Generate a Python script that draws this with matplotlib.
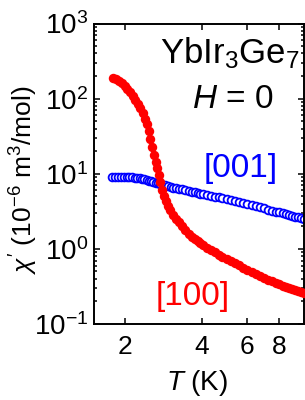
import numpy as np
import matplotlib
matplotlib.use("Agg")
import matplotlib.pyplot as plt
from matplotlib.ticker import FixedLocator, NullFormatter, FixedFormatter, LogLocator

plt.rcParams['font.family'] = 'Liberation Sans'
plt.rcParams['mathtext.fontset'] = 'custom'
plt.rcParams['mathtext.rm'] = 'Liberation Sans'
plt.rcParams['mathtext.it'] = 'Liberation Sans:italic'

# chi' along [100] (red, filled)
T_100 = [1.80, 1.85, 1.90, 1.95, 2.00, 2.05, 2.10, 2.15, 2.20, 2.25, 2.30, 2.35,
         2.40, 2.44, 2.48, 2.52, 2.56, 2.60, 2.64, 2.68, 2.72, 2.76, 2.80, 2.85,
         2.90, 2.95, 3.00, 3.08, 3.16, 3.25, 3.35, 3.45, 3.55, 3.65, 3.75, 3.85,
         3.95, 4.05, 4.20, 4.35, 4.50, 4.65, 4.80, 5.00, 5.20, 5.40, 5.60, 5.80,
         6.00, 6.25, 6.50, 6.75, 7.00, 7.25, 7.50, 7.75, 8.00, 8.25, 8.50, 8.75,
         9.00, 9.25, 9.50, 9.75, 10.0]
chi_100 = [188, 183, 174, 162, 148, 134, 121, 108, 96, 86, 76, 65,
           54, 46, 37, 29, 23, 18, 14.5, 11.8, 9.6, 7.8, 6.0, 5.0,
           4.3, 3.75, 3.3, 2.85, 2.5, 2.25, 2.0, 1.78, 1.59, 1.45, 1.35, 1.26,
           1.18, 1.12, 1.04, 0.97, 0.90, 0.84, 0.79, 0.74, 0.69, 0.645, 0.605, 0.565,
           0.53, 0.495, 0.46, 0.435, 0.41, 0.39, 0.37, 0.355, 0.34, 0.325, 0.315, 0.305,
           0.295, 0.285, 0.278, 0.27, 0.262]

# chi' along [001] (blue, open)
T_001 = [1.79, 1.84, 1.89, 1.94, 1.99, 2.04, 2.09, 2.14, 2.19, 2.24, 2.29, 2.34,
         2.39, 2.44, 2.49, 2.54, 2.59, 2.64, 2.70, 2.76, 2.82, 2.88, 2.95, 3.02,
         3.10, 3.18, 3.26, 3.35, 3.45, 3.55, 3.65, 3.75, 3.85, 3.95, 4.05, 4.20,
         4.35, 4.50, 4.65, 4.80, 5.00, 5.20, 5.40, 5.60, 5.80, 6.00, 6.25, 6.50,
         6.75, 7.00, 7.25, 7.50, 7.75, 8.00, 8.25, 8.50, 8.75, 9.00, 9.25, 9.50,
         9.75, 10.0]
chi_001 = [9.05, 9.05, 9.05, 9.05, 9.0, 9.0, 8.95, 8.95, 8.9, 8.85, 8.75, 8.6,
           8.45, 8.25, 8.05, 7.9, 7.75, 7.6, 7.45, 7.3, 7.15, 7.0, 6.85, 6.7,
           6.55, 6.45, 6.35, 6.22, 6.1, 5.95, 5.8, 5.68, 5.56, 5.45, 5.35, 5.2,
           5.07, 4.95, 4.85, 4.75, 4.62, 4.48, 4.35, 4.22, 4.1, 3.98, 3.84, 3.7,
           3.57, 3.45, 3.34, 3.24, 3.14, 3.05, 2.97, 2.9, 2.83, 2.76, 2.69, 2.63,
           2.56, 2.5]

xticks = [2, 4, 6, 8]
xtick_labels = ['2', '4', '6', '8']

fig = plt.figure(figsize=(3.05, 4.0), dpi=100)
ax = fig.add_axes([94/305, 76/400, 210/305, 300.5/400])

ax.plot(T_001, chi_001, 'o', mfc='white', mec='#0000ff', mew=1.3, ms=5.6, zorder=2)
ax.plot(T_100, chi_100, 'o', color='#ff0000', ms=6.8, mew=0, zorder=3)

ax.set_xscale('log')
ax.set_yscale('log')
ax.set_xlim(1.52, 10)
ax.set_ylim(0.1, 1000)

ax.xaxis.set_major_locator(FixedLocator(xticks))
ax.xaxis.set_major_formatter(FixedFormatter(xtick_labels))
ax.xaxis.set_minor_locator(FixedLocator([]))
ax.xaxis.set_minor_formatter(NullFormatter())
ax.yaxis.set_major_locator(LogLocator(base=10, numticks=10))
ax.yaxis.set_minor_locator(LogLocator(base=10, subs=np.arange(2, 10), numticks=10))

for s in ax.spines.values():
    s.set_linewidth(1.4)
ax.tick_params(which='both', direction='in', top=True, right=True, width=1.1)
ax.tick_params(which='major', length=4.5)
ax.tick_params(which='minor', length=2.3)
ax.tick_params(axis='x', labelsize=19, pad=8)
ax.tick_params(axis='y', labelsize=20, pad=4)

ax.set_xlabel(r'$T$ (K)', fontsize=20)
ax.xaxis.set_label_coords(0.49, -0.145)
ax.set_ylabel(r"$\chi'$ (10$^{-6}$ m$^3$/mol)", fontsize=19)
ax.yaxis.set_label_coords(-0.335, 0.48)
ax.yaxis.label.set_va('center')

ax.text(0.648, 0.868, r'YbIr$_3$Ge$_7$', transform=ax.transAxes,
        ha='center', va='baseline', fontsize=25)
ax.text(0.66, 0.719, r'$H$ = 0', transform=ax.transAxes,
        ha='center', va='baseline', fontsize=24)
ax.text(0.70, 0.488, '[001]', transform=ax.transAxes, color='#0000ff',
        ha='center', va='baseline', fontsize=24)
ax.text(0.472, 0.063, '[100]', transform=ax.transAxes, color='#ff0000',
        ha='center', va='baseline', fontsize=24)

fig.savefig('out.png', dpi=100)
